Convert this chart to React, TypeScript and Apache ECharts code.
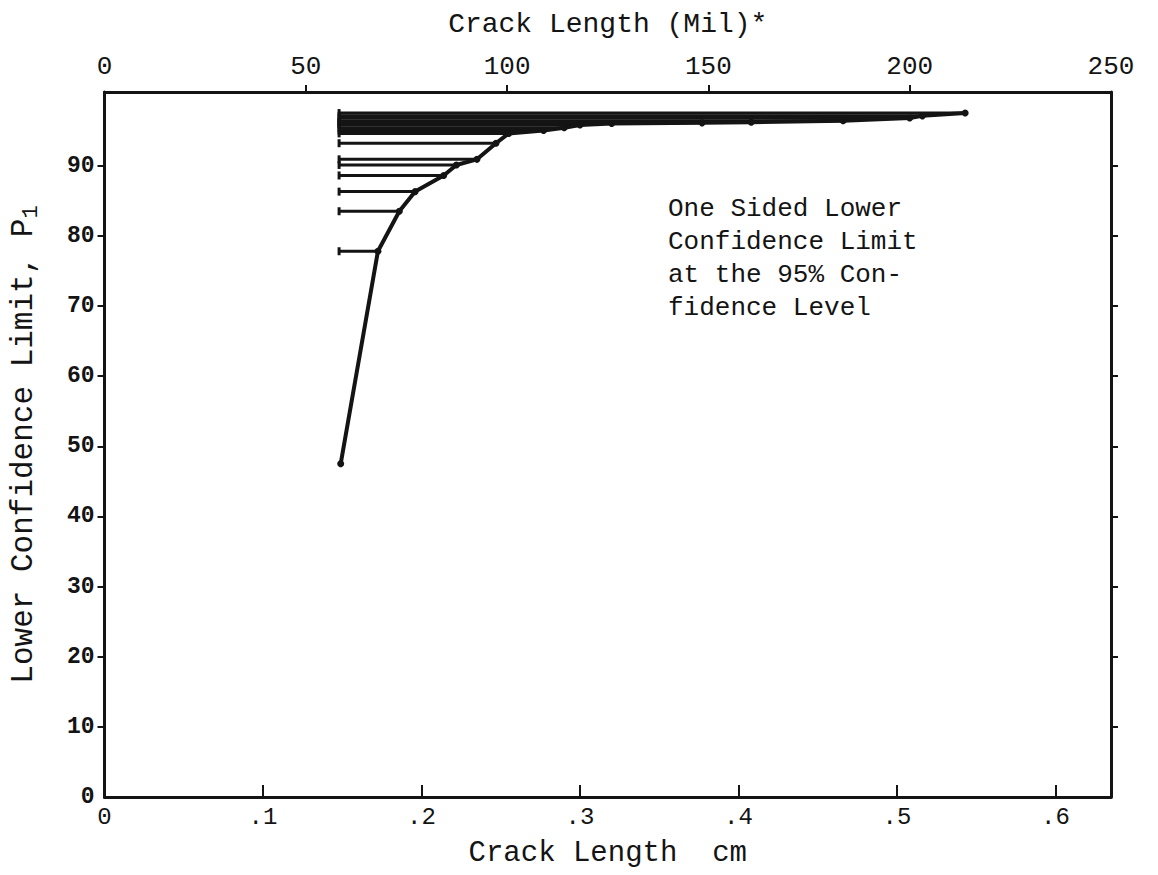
import React, { useEffect, useRef } from "react";
import * as echarts from "echarts";

// Crack length (cm) and lower confidence limit P1 (%)
const crackCm = [0.149, 0.1725, 0.186, 0.196, 0.214, 0.222, 0.235, 0.247, 0.255, 0.277, 0.29, 0.3, 0.32, 0.377, 0.408, 0.466, 0.508, 0.516, 0.543];
const lowerLimit = [47.5, 77.8, 83.5, 86.3, 88.6, 90.1, 90.9, 93.2, 94.6, 95.0, 95.4, 95.8, 96.0, 96.1, 96.2, 96.4, 96.8, 97.1, 97.5];
// left end of the horizontal hatch lines (cm)
const hatchStart = 0.148;

const cmTicks = [0, 0.1, 0.2, 0.3, 0.4, 0.5, 0.6];
const milTicks = [0, 50, 100, 150, 200, 250];
const pTickLabels = [0, 10, 20, 30, 40, 50, 60, 70, 80, 90];
const pTicks = [10, 20, 30, 40, 50, 60, 70, 80, 90];

const annotationLines = ["One Sided Lower", "Confidence Limit", "at the 95% Con-", "fidence Level"];

const INK = "#141414";
const MONO = "'Liberation Mono', 'DejaVu Sans Mono', monospace";

export default function App() {
  const ref = useRef<HTMLDivElement>(null);
  useEffect(() => {
    if (!ref.current) return;
    const chart = echarts.init(ref.current, null, { renderer: "svg" });
    const points = crackCm.map((x, i) => [x, lowerLimit[i]]);
    const axisLine = { show: true, onZero: false, lineStyle: { color: INK, width: 3 } };
    const option: any = {
      animation: false,
      backgroundColor: "#ffffff",
      grid: { left: 103, right: 47, top: 92, bottom: 78 },
      xAxis: [
        {
          type: "value", position: "bottom", min: 0, max: 0.635,
          axisLine,
          splitLine: { show: false },
          axisTick: { show: true, inside: true, length: 12, customValues: cmTicks.slice(1), lineStyle: { color: INK, width: 2 } },
          axisLabel: {
            customValues: cmTicks, margin: 8, color: INK, fontFamily: MONO, fontSize: 24,
            formatter: (v: number) => (v === 0 ? "0" : "." + Math.round(v * 10)),
          },
          name: "Crack Length  cm", nameLocation: "middle", nameGap: 42,
          nameTextStyle: { color: INK, fontFamily: MONO, fontSize: 29 },
        },
        {
          type: "value", position: "top", min: 0, max: 250,
          axisLine,
          splitLine: { show: false },
          axisTick: { show: true, inside: false, length: 7, customValues: milTicks.slice(1, 5), lineStyle: { color: INK, width: 2 } },
          axisLabel: { customValues: milTicks, margin: 12, color: INK, fontFamily: MONO, fontSize: 26 },
          name: "Crack Length (Mil)*", nameLocation: "middle", nameGap: 54,
          nameTextStyle: { color: INK, fontFamily: MONO, fontSize: 28 },
        },
      ],
      yAxis: [
        {
          type: "value", position: "left", min: 0, max: 100.5,
          axisLine,
          splitLine: { show: false },
          axisTick: { show: true, inside: false, length: 7, customValues: pTicks, lineStyle: { color: INK, width: 2 } },
          axisLabel: { customValues: pTickLabels, margin: 10, color: INK, fontFamily: MONO, fontWeight: "bold", fontSize: 23 },
          name: "Lower Confidence Limit, P{sub|1}", nameLocation: "middle", nameGap: 62,
          nameTextStyle: {
            color: INK, fontFamily: MONO, fontSize: 31,
            rich: { sub: { color: INK, fontFamily: MONO, fontSize: 22, padding: [16, 0, 0, 0] } },
          },
        },
        {
          type: "value", position: "right", min: 0, max: 100.5,
          axisLine,
          splitLine: { show: false },
          axisTick: { show: true, inside: false, length: 7, customValues: pTicks, lineStyle: { color: INK, width: 2 } },
          axisLabel: { show: false },
        },
      ],
      graphic: [
        {
          type: "text", left: 668, top: 192,
          style: {
            text: annotationLines.join("\n"), fill: INK, fontFamily: MONO, fontSize: 26, lineHeight: 33,
          },
        },
      ],
      series: [
        {
          type: "custom",
          xAxisIndex: 0, yAxisIndex: 0,
          data: points.slice(1),
          encode: { x: 0, y: 1 },
          renderItem: (params: any, api: any) => {
            const x = api.value(0);
            const y = api.value(1);
            const a = api.coord([hatchStart, y]);
            const b = api.coord([x, y]);
            return {
              type: "group",
              children: [
                { type: "line", shape: { x1: a[0], y1: a[1], x2: b[0], y2: b[1] }, style: { stroke: INK, lineWidth: 3 } },
                { type: "line", shape: { x1: a[0], y1: a[1] - 4, x2: a[0], y2: a[1] + 4 }, style: { stroke: INK, lineWidth: 3 } },
              ],
            };
          },
          z: 2,
        },
        {
          type: "line",
          xAxisIndex: 0, yAxisIndex: 0,
          data: points,
          symbol: "circle", symbolSize: 7,
          itemStyle: { color: INK },
          lineStyle: { color: INK, width: 4 },
          z: 3,
        },
      ],
    };
    chart.setOption(option);
    return () => chart.dispose();
  }, []);
  return (
    <div
      ref={ref}
      style={{ position: "absolute", left: 0, top: 0, width: 1158, height: 875, background: "#fff" }}
    />
  );
}
